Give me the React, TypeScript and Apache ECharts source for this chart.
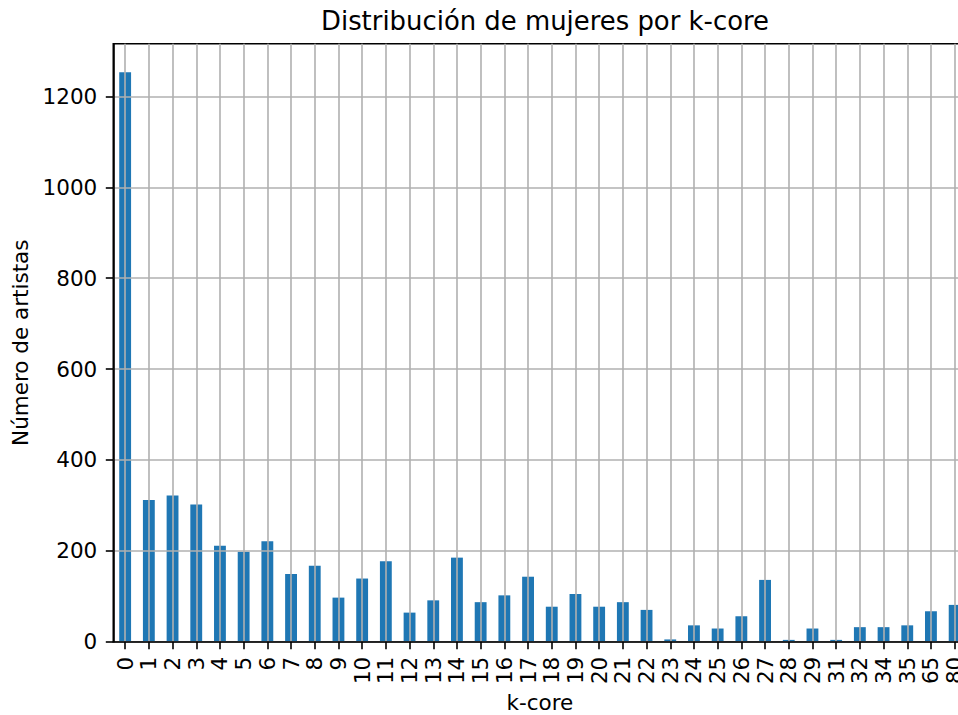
import React, { useEffect, useRef } from "react";
import * as echarts from "echarts";

const categories: string[] = [
  "0", "1", "2", "3", "4", "5", "6", "7", "8", "9",
  "10", "11", "12", "13", "14", "15", "16", "17", "18", "19",
  "20", "21", "22", "23", "24", "25", "26", "27", "28", "29",
  "31", "32", "34", "35", "65", "80",
];

const counts: number[] = [
  1253, 312, 322, 302, 211, 198, 221, 149, 167, 97,
  139, 177, 64, 91, 185, 87, 102, 143, 77, 105,
  77, 87, 70, 5, 36, 29, 56, 136, 4, 29,
  4, 32, 32, 36, 67, 81,
];

const yTicks: number[] = [0, 200, 400, 600, 800, 1000, 1200];
const yMax = 1316;

const titleText = "Distribución de mujeres por k-core";
const xName = "k-core";
const yName = "Número de artistas";

const FONT = "DejaVu Sans";

export default function App() {
  const ref = useRef<HTMLDivElement>(null);
  useEffect(() => {
    if (!ref.current) return;
    const chart = echarts.init(ref.current, undefined, { renderer: "svg" });
    const lineW = 1.6;
    chart.setOption({
      animation: false,
      backgroundColor: "#ffffff",
      title: {
        text: titleText,
        left: 540,
        top: 3,
        textAlign: "center",
        textStyle: {
          fontFamily: FONT,
          fontSize: 25.9,
          fontWeight: "normal",
          color: "#000",
        },
      },
      grid: {
        left: 113.3,
        top: 43.7,
        width: 853.2,
        height: 598,
        show: true,
        borderColor: "#000",
        borderWidth: lineW,
        containLabel: false,
        outerBoundsMode: "none",
      },
      xAxis: {
        type: "category",
        data: categories,
        boundaryGap: true,
        z: 3,
        name: xName,
        nameLocation: "middle",
        nameGap: 47,
        nameTextStyle: { fontFamily: FONT, fontSize: 21.5, color: "#000" },
        axisLine: { show: true, lineStyle: { color: "#000", width: lineW } },
        axisTick: {
          show: true,
          alignWithLabel: true,
          interval: 0,
          length: 7.5,
          lineStyle: { color: "#000", width: lineW },
        },
        axisLabel: {
          interval: 0,
          rotate: 90,
          margin: 15,
          fontFamily: FONT,
          fontSize: 21.5,
          color: "#000",
        },
        splitLine: {
          show: true,
          interval: 0,
          alignWithLabel: true,
          lineStyle: { color: "#b0b0b0", width: lineW },
        },
      },
      yAxis: {
        type: "value",
        min: 0,
        max: yMax,
        interval: 200,
        z: 3,
        name: yName,
        nameLocation: "middle",
        nameGap: 81,
        nameTextStyle: { fontFamily: FONT, fontSize: 21.5, color: "#000" },
        axisLine: { show: true, lineStyle: { color: "#000", width: lineW } },
        axisTick: {
          show: true,
          length: 7.5,
          customValues: yTicks,
          lineStyle: { color: "#000", width: lineW },
        },
        axisLabel: {
          margin: 16,
          customValues: yTicks,
          fontFamily: FONT,
          fontSize: 21.5,
          color: "#000",
          formatter: (v: number) => (yTicks.indexOf(v) >= 0 ? String(v) : ""),
        },
        splitLine: {
          show: true,
          lineStyle: { color: "#b0b0b0", width: lineW },
        },
      },
      series: [
        {
          type: "bar",
          data: counts,
          barWidth: "50%",
          z: 2,
          itemStyle: { color: "#1f77b4" },
        },
      ],
    });
    return () => chart.dispose();
  }, []);
  return (
    <div
      ref={ref}
      style={{
        position: "absolute",
        left: 0,
        top: 0,
        width: 958,
        height: 715,
        overflow: "hidden",
        background: "#fff",
      }}
    />
  );
}
